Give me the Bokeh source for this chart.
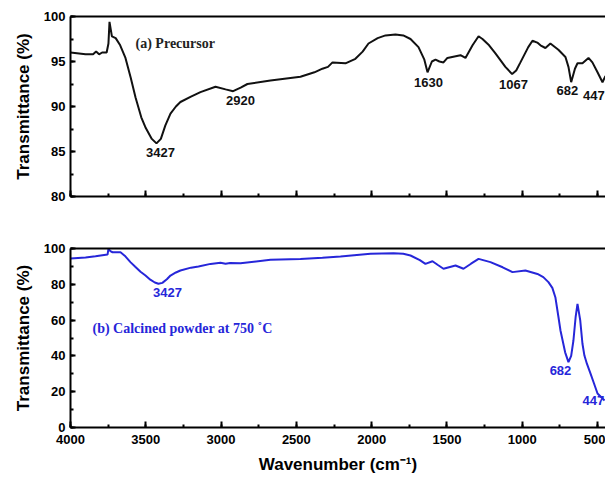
from bokeh.plotting import figure
from bokeh.layouts import column
from bokeh.models import Range1d, LinearAxis, SingleIntervalTicker, ColumnDataSource
from bokeh.core.properties import value
from bokeh.embed import file_html
from bokeh.resources import INLINE

# ---- data: (a) precursor ----
wn_a = [4000, 3900, 3850, 3830, 3810, 3790, 3760, 3748, 3741, 3725, 3700, 3670, 3635, 3600,
        3568, 3530, 3500, 3460, 3429, 3400, 3370, 3336, 3300, 3270, 3200, 3137, 3037, 2970,
        2920, 2870, 2825, 2672, 2473, 2380, 2327, 2290, 2260, 2174, 2108, 2060, 2021, 1960,
        1908, 1842, 1790, 1742, 1689, 1650, 1629, 1600, 1576, 1550, 1523, 1497, 1410, 1377,
        1330, 1290, 1264, 1220, 1178, 1112, 1067, 1040, 1012, 960, 932, 900, 879, 846, 813,
        760, 713, 693, 675, 650, 633, 600, 560, 534, 500, 467, 447]
tr_a = [96.0, 95.8, 95.8, 96.1, 95.8, 96.0, 96.0, 97.0, 99.4, 97.8, 97.6, 96.8, 95.4, 93.2,
        91.0, 88.8, 87.6, 86.4, 85.9, 86.4, 87.9, 89.2, 90.0, 90.5, 91.1, 91.6, 92.2, 91.9,
        91.7, 92.1, 92.5, 92.9, 93.3, 93.8, 94.2, 94.4, 94.9, 94.8, 95.3, 96.1, 97.0, 97.6,
        97.9, 98.0, 97.9, 97.5, 96.6, 95.2, 93.8, 95.0, 95.2, 95.0, 94.9, 95.4, 95.7, 95.4,
        96.8, 97.8, 97.5, 96.8, 95.9, 94.4, 93.6, 94.0, 94.9, 96.6, 97.3, 97.1, 96.8, 96.5, 97.0,
        96.3, 95.5, 94.4, 92.7, 94.2, 94.8, 94.8, 95.4, 94.9, 93.8, 92.7, 93.4]

# ---- data: (b) calcined powder at 750 C ----
wn_b = [4000, 3900, 3834, 3754, 3748, 3735, 3721, 3668, 3640, 3602, 3570, 3535, 3502, 3470,
        3440, 3416, 3390, 3360, 3336, 3300, 3270, 3200, 3150, 3070, 3004, 2970, 2940, 2871,
        2672, 2473, 2327, 2207, 2008, 1855, 1790, 1742, 1680, 1643, 1596, 1560, 1523, 1443,
        1390, 1340, 1290, 1211, 1130, 1065, 979, 899, 860, 826, 800, 780, 760, 746, 715, 693,
        675, 660, 645, 633, 615, 600, 587, 570, 547, 525, 500, 453]
tr_b = [94.4, 95.0, 95.7, 96.6, 99.8, 98.5, 97.9, 97.9, 96.0, 92.4, 89.8, 87.0, 84.9, 82.6,
        81.0, 80.3, 80.8, 82.8, 84.9, 86.6, 87.7, 89.3, 90.0, 91.4, 92.0, 91.5, 91.9, 91.8,
        93.7, 94.2, 94.8, 95.5, 97.0, 97.4, 97.1, 96.1, 93.5, 91.4, 92.9, 90.8, 88.7, 90.5,
        88.7, 91.5, 94.2, 92.4, 89.5, 86.8, 87.7, 85.8, 84.0, 81.2, 78.0, 72.8, 62.0, 54.2,
        42.0, 36.5, 40.0, 48.6, 62.0, 69.1, 60.0, 46.8, 40.2, 35.5, 30.2, 25.0, 19.0, 15.1]

# ---- peak labels ----
lab_a_text = ["3427", "2920", "1630", "1067", "682", "447"]
lab_a_x = [3402, 2871, 1623, 1058, 700, 596]
lab_a_y = [84.9, 90.7, 92.7, 92.4, 91.8, 91.2]
lab_a_align = ["center", "center", "center", "center", "center", "left"]

lab_b_text = ["3427", "682", "447"]
lab_b_x = [3356, 746, 600]
lab_b_y = [75.6, 31.8, 15.1]
lab_b_align = ["center", "center", "left"]

title_a = "(a) Precursor"
title_b = "(b) Calcined powder at 750 \u02daC"

X_START, X_END = 4000, 447
FONT = "Liberation Sans"
SERIF = "Liberation Serif"
BLUE = "#2626d9"


def style_axis(ax, show_labels, tick_len=6, minor_len=3):
    ax.axis_line_width = 2
    ax.axis_line_color = "black"
    ax.major_tick_in = tick_len
    ax.major_tick_out = 0
    ax.minor_tick_in = minor_len
    ax.minor_tick_out = 0
    ax.major_tick_line_width = 2
    ax.minor_tick_line_width = 2
    ax.major_label_text_font = FONT
    ax.major_label_text_font_style = "bold"
    ax.major_label_text_font_size = "13px"
    ax.major_label_text_color = "black" if show_labels else None
    ax.axis_label_text_font = FONT
    ax.axis_label_text_font_style = "bold"
    ax.axis_label_text_font_size = "17px"
    ax.axis_label_text_color = "black"


def make_panel(height, border_top, border_bottom, y_lo, y_hi, y_int, show_x_labels):
    p = figure(width=605, height=height, output_backend="svg", toolbar_location=None,
               x_range=Range1d(X_START, X_END), y_range=Range1d(y_lo, y_hi),
               x_axis_type=None, y_axis_type=None,
               min_border_left=70, min_border_right=0,
               min_border_top=border_top, min_border_bottom=border_bottom)
    p.outline_line_color = None
    p.grid.visible = False
    p.background_fill_color = "white"
    p.border_fill_color = "white"

    xb = LinearAxis(ticker=SingleIntervalTicker(interval=500, num_minor_ticks=2))
    style_axis(xb, show_x_labels)
    xb.major_label_standoff = 7
    if show_x_labels:
        xb.axis_label = "Wavenumber (cm\u207b\u00b9)"
        xb.axis_label_standoff = 8
    p.add_layout(xb, "below")

    xt = LinearAxis(ticker=SingleIntervalTicker(interval=500, num_minor_ticks=2))
    style_axis(xt, False, 0, 0)
    xt.major_tick_line_color = None
    xt.minor_tick_line_color = None
    p.add_layout(xt, "above")

    yl = LinearAxis(ticker=SingleIntervalTicker(interval=y_int, num_minor_ticks=2))
    style_axis(yl, True, 5, 3)
    yl.major_label_standoff = 5
    yl.axis_label = "Transmittance (%)"
    yl.axis_label_standoff = 8
    p.add_layout(yl, "left")
    return p


p1 = make_panel(206, 16, 10, 80, 100, 5, False)
p1.line(wn_a, tr_a, line_color="#111111", line_width=2)
src_a = ColumnDataSource(dict(x=lab_a_x, y=lab_a_y, t=lab_a_text, a=lab_a_align))
p1.text(x="x", y="y", text="t", text_align="a", source=src_a, text_baseline="middle",
        text_font=value(FONT), text_font_style="bold", text_font_size="13px", text_color="#111111")
p1.text(x=[3568], y=[97.0], text=[title_a], text_align="left", text_baseline="middle",
        text_font=value(SERIF), text_font_style="bold", text_font_size="14px", text_color="#222222")

p2 = make_panel(275, 42, 54, 0, 100, 20, True)
p2.line(wn_b, tr_b, line_color=BLUE, line_width=2)
src_b = ColumnDataSource(dict(x=lab_b_x, y=lab_b_y, t=lab_b_text, a=lab_b_align))
p2.text(x="x", y="y", text="t", text_align="a", source=src_b, text_baseline="middle",
        text_font=value(FONT), text_font_style="bold", text_font_size="13px", text_color=BLUE)
p2.text(x=[3854], y=[55.3], text=[title_b], text_align="left", text_baseline="middle",
        text_font=value(SERIF), text_font_style="bold", text_font_size="14px", text_color=BLUE)

layout = column(p1, p2, spacing=0)
open("out.html", "w").write(file_html(layout, INLINE))
